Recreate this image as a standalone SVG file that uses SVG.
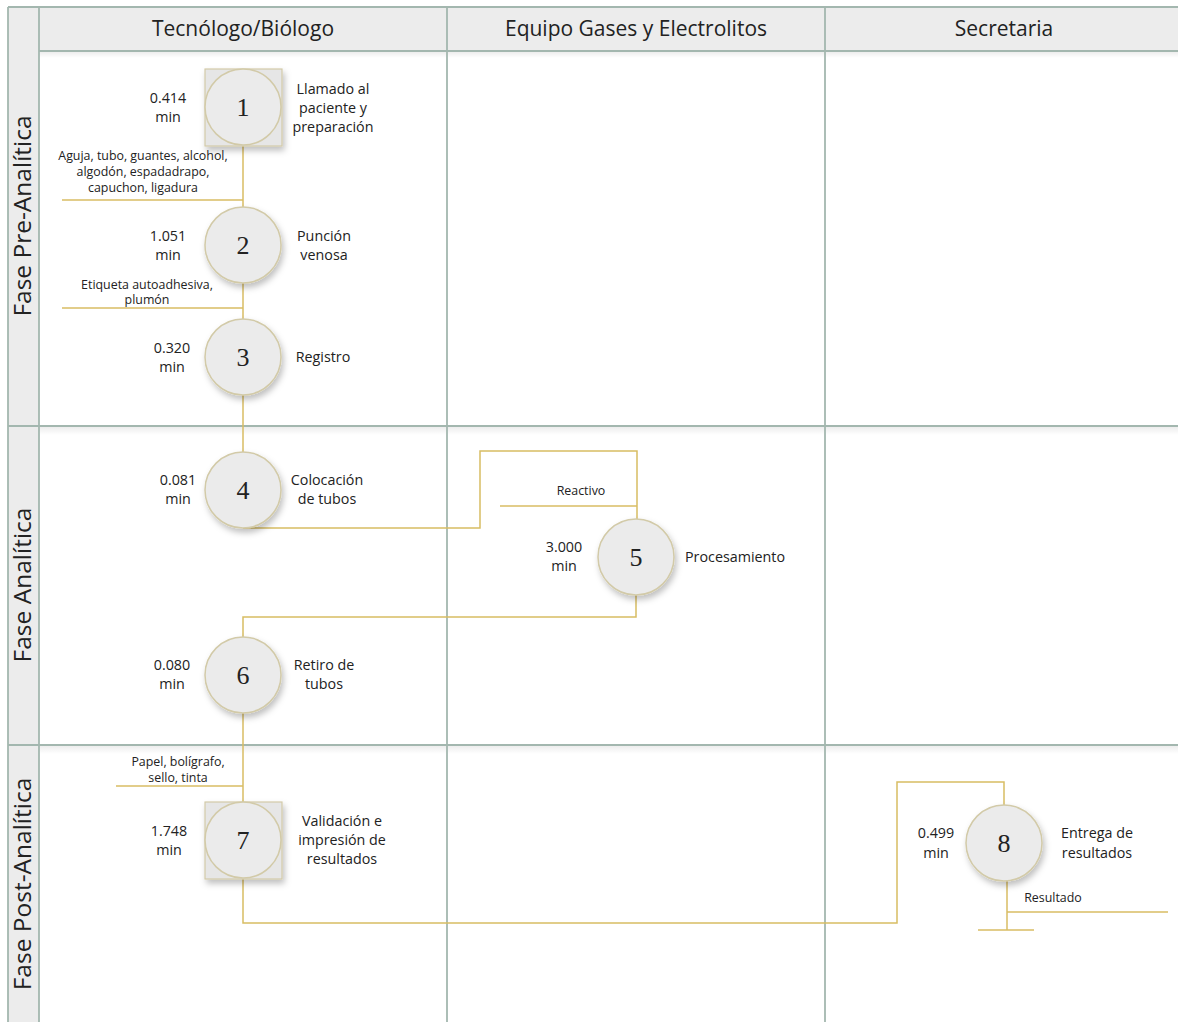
<svg xmlns="http://www.w3.org/2000/svg" width="1178" height="1022" viewBox="0 0 1178 1022">
<style>
.band{fill:#ececec;stroke:none}
.grid{stroke:#a3b7af;stroke-width:1.8;fill:none}
.hdr{font-family:"Open Sans","Noto Sans",sans-serif;font-size:21px;fill:#222;text-anchor:middle}
.lane{font-family:"Open Sans","Noto Sans",sans-serif;font-size:24.5px;fill:#222;text-anchor:middle}
.t{font-family:"Open Sans","Noto Sans",sans-serif;font-size:14.3px;fill:#222;text-anchor:middle}
.s{font-family:"Open Sans","Noto Sans",sans-serif;font-size:12.4px;fill:#222;text-anchor:middle}
.num{font-family:"Liberation Serif","Times New Roman",serif;font-size:26px;fill:#222;text-anchor:middle}
.c{fill:#ebebeb;stroke:#d2caa8;stroke-width:1.5}
.sq{fill:#e6e6e6;stroke:#d2caa8;stroke-width:1.2}
.con{stroke:#d8bd63;stroke-width:1.5;fill:none}
</style>
<defs>
<filter id="sh" x="-30%" y="-30%" width="160%" height="160%">
<feDropShadow dx="2" dy="4" stdDeviation="3" flood-color="#000" flood-opacity="0.25"/>
</filter>
<linearGradient id="rs" x1="0" y1="0" x2="0" y2="1">
<stop offset="0" stop-color="#000" stop-opacity="0.07"/>
<stop offset="1" stop-color="#000" stop-opacity="0"/>
</linearGradient>
</defs>
<rect width="1178" height="1022" fill="#fff"/>
<g id="frame">
<rect class="band" x="8" y="7" width="1170" height="44"/>
<rect class="band" x="8" y="7" width="31" height="1015"/>
<rect x="39" y="427" width="1139" height="8" fill="url(#rs)"/>
<rect x="39" y="746" width="1139" height="8" fill="url(#rs)"/>
<rect x="39" y="52" width="1139" height="6" fill="url(#rs)"/>
<line class="grid" x1="8" y1="7" x2="1178" y2="7"/>
<line class="grid" x1="39" y1="51" x2="1178" y2="51"/>
<line class="grid" x1="8" y1="7" x2="8" y2="1022"/>
<line class="grid" x1="39" y1="7" x2="39" y2="1022"/>
<line class="grid" x1="447" y1="7" x2="447" y2="1022"/>
<line class="grid" x1="825" y1="7" x2="825" y2="1022"/>
<line class="grid" x1="8" y1="426" x2="1178" y2="426"/>
<line class="grid" x1="8" y1="745" x2="1178" y2="745"/>
<text class="hdr" x="243" y="36">Tecnólogo/Biólogo</text>
<text class="hdr" x="636" y="36">Equipo Gases y Electrolitos</text>
<text class="hdr" x="1004" y="36">Secretaria</text>
<text class="lane" transform="translate(31,216) rotate(-90)">Fase Pre-Analítica</text>
<text class="lane" transform="translate(31,585) rotate(-90)">Fase Analítica</text>
<text class="lane" transform="translate(31,884) rotate(-90)">Fase Post-Analítica</text>
</g>
<g id="connectors">
<line class="con" x1="243" y1="146" x2="243" y2="208"/>
<line class="con" x1="62" y1="200" x2="243" y2="200"/>
<line class="con" x1="243" y1="283" x2="243" y2="320"/>
<line class="con" x1="62" y1="308" x2="243" y2="308"/>
<line class="con" x1="243" y1="395" x2="243" y2="452"/>
<polyline class="con" points="243,528 480,528 480,451 637,451 637,519"/>
<line class="con" x1="500" y1="506" x2="637" y2="506"/>
<polyline class="con" points="636,595 636,617 243,617 243,637"/>
<line class="con" x1="243" y1="713" x2="243" y2="802"/>
<line class="con" x1="116" y1="786" x2="243" y2="786"/>
<polyline class="con" points="243,879 243,923 897,923 897,782 1004,782 1004,805"/>
<line class="con" x1="1007" y1="881" x2="1007" y2="930"/>
<line class="con" x1="1007" y1="912" x2="1168" y2="912"/>
<line class="con" x1="978" y1="930" x2="1034" y2="930"/>
</g>
<g id="node1">
<rect class="sq" x="205" y="69" width="77" height="77" filter="url(#sh)"/>
<circle class="c" cx="243" cy="107" r="38"/>
<text class="num" x="243" y="116">1</text>
<text class="t" x="168" y="103">0.414</text><text class="t" x="168" y="122">min</text>
<text class="t" x="333" y="94">Llamado al</text><text class="t" x="333" y="113">paciente y</text><text class="t" x="333" y="132">preparación</text>
<text class="s" x="143" y="160">Aguja, tubo, guantes, alcohol,</text><text class="s" x="143" y="176">algodón, espadadrapo,</text><text class="s" x="143" y="192">capuchon, ligadura</text>
</g>
<g id="node2">
<circle class="c" cx="243" cy="245" r="38" filter="url(#sh)"/>
<text class="num" x="243" y="254">2</text>
<text class="t" x="168" y="241">1.051</text><text class="t" x="168" y="260">min</text>
<text class="t" x="324" y="241">Punción</text><text class="t" x="324" y="260">venosa</text>
<text class="s" x="147" y="289">Etiqueta autoadhesiva,</text><text class="s" x="147" y="304">plumón</text>
</g>
<g id="node3">
<circle class="c" cx="243" cy="357" r="38" filter="url(#sh)"/>
<text class="num" x="243" y="366">3</text>
<text class="t" x="172" y="353">0.320</text><text class="t" x="172" y="372">min</text>
<text class="t" x="323" y="362">Registro</text>
</g>
<g id="node4">
<circle class="c" cx="243" cy="490" r="38" filter="url(#sh)"/>
<text class="num" x="243" y="499">4</text>
<text class="t" x="178" y="485">0.081</text><text class="t" x="178" y="504">min</text>
<text class="t" x="327" y="485">Colocación</text><text class="t" x="327" y="504">de tubos</text>
</g>
<g id="node5">
<circle class="c" cx="636" cy="557" r="38" filter="url(#sh)"/>
<text class="num" x="636" y="566">5</text>
<text class="s" x="581" y="495">Reactivo</text>
<text class="t" x="564" y="552">3.000</text><text class="t" x="564" y="571">min</text>
<text class="t" x="735" y="562">Procesamiento</text>
</g>
<g id="node6">
<circle class="c" cx="243" cy="675" r="38" filter="url(#sh)"/>
<text class="num" x="243" y="684">6</text>
<text class="t" x="172" y="670">0.080</text><text class="t" x="172" y="689">min</text>
<text class="t" x="324" y="670">Retiro de</text><text class="t" x="324" y="689">tubos</text>
</g>
<g id="node7">
<rect class="sq" x="205" y="802" width="77" height="77" filter="url(#sh)"/>
<circle class="c" cx="243" cy="840" r="38"/>
<text class="num" x="243" y="849">7</text>
<text class="s" x="178" y="766">Papel, bolígrafo,</text><text class="s" x="178" y="782">sello, tinta</text>
<text class="t" x="169" y="836">1.748</text><text class="t" x="169" y="855">min</text>
<text class="t" x="342" y="826">Validación e</text><text class="t" x="342" y="845">impresión de</text><text class="t" x="342" y="864">resultados</text>
</g>
<g id="node8">
<circle class="c" cx="1004" cy="843" r="38" filter="url(#sh)"/>
<text class="num" x="1004" y="852">8</text>
<text class="t" x="936" y="838">0.499</text><text class="t" x="936" y="858">min</text>
<text class="t" x="1097" y="838">Entrega de</text><text class="t" x="1097" y="858">resultados</text>
<text class="s" x="1053" y="902">Resultado</text>
</g>
</svg>
